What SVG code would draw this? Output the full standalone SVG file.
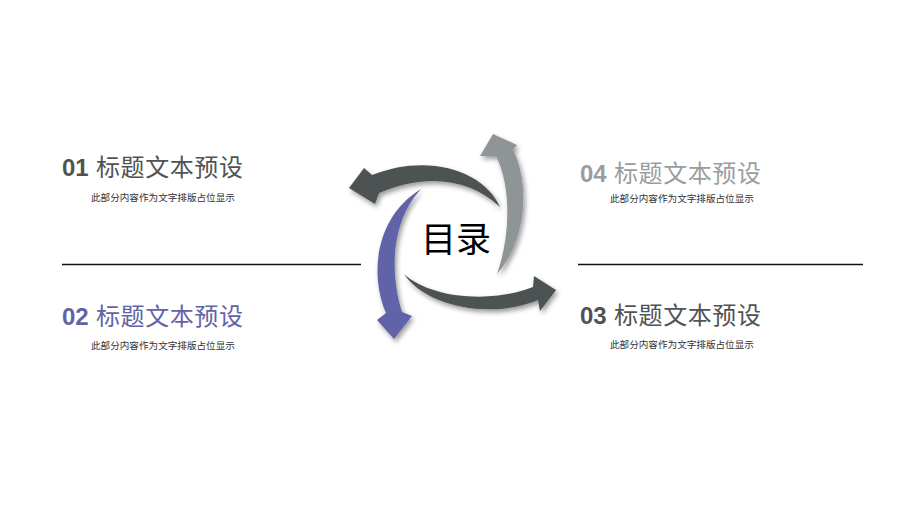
<svg xmlns="http://www.w3.org/2000/svg" width="920" height="517" viewBox="0 0 920 517">
  <style>
    .title { font-family: "Liberation Sans", "Noto Sans CJK SC", sans-serif; font-size: 24px; letter-spacing: 0.6px; }
    .num { font-weight: bold; letter-spacing: 0; }
    .sub { font-family: "Noto Sans CJK SC", sans-serif; font-size: 9.6px; fill: #333333; }
    .dark { fill: #4d5252; }
    .light { fill: #8f9497; }
    .purple { fill: #6163a7; }
    .line { stroke: #111111; stroke-width: 1.3; }
  </style>
  <defs>
    <filter id="sh" x="-30%" y="-30%" width="160%" height="160%">
      <feDropShadow dx="2" dy="3" stdDeviation="2.5" flood-color="#000" flood-opacity="0.4"/>
    </filter>
  </defs>
  <rect width="920" height="517" fill="#ffffff"/>

  <g id="connectors">
    <line class="line" x1="62" y1="264.5" x2="361" y2="264.5"/>
    <line class="line" x1="578" y1="264.5" x2="863" y2="264.5"/>
  </g>

  <g id="cycle" filter="url(#sh)">
    <path id="arrow-top" class="dark" d="M500,207 C485,172 430,152 372,175 L364,168 L349,188 L375,204 L379,193 C425,173 470,178 500,207 Z"/>
    <path id="arrow-right" class="light" d="M497,274 C527,240 530,183 513,150 L517,145 L493,134 L480,156 L496,156 C511,185 511,235 497,274 Z"/>
    <path id="arrow-bottom" class="dark" d="M404,274 C430,298 490,304 533,287 L534,276 L556,290 L540,311 L538,300 C490,320 425,306 404,274 Z"/>
    <path id="arrow-left" class="purple" d="M421,189 C378,215 368,270 386,313 L377,320 L394,339 L412,316 L402,312 C389,270 392,220 421,189 Z"/>
  </g>

  <g id="center">
    <text x="456" y="252" text-anchor="middle" font-family="Noto Sans CJK SC, sans-serif" font-size="35" fill="#000000">目录</text>
  </g>

  <g id="item-01">
    <text class="title" x="62" y="176" fill="#505353"><tspan class="num">01</tspan> 标题文本预设</text>
    <text class="sub" x="91" y="201">此部分内容作为文字排版占位显示</text>
  </g>
  <g id="item-02">
    <text class="title" x="62" y="325" fill="#6163a7"><tspan class="num">02</tspan> 标题文本预设</text>
    <text class="sub" x="91" y="349">此部分内容作为文字排版占位显示</text>
  </g>
  <g id="item-03">
    <text class="title" x="580" y="324" fill="#505353"><tspan class="num">03</tspan> 标题文本预设</text>
    <text class="sub" x="610" y="348">此部分内容作为文字排版占位显示</text>
  </g>
  <g id="item-04">
    <text class="title" x="580" y="182" fill="#9a9d9f"><tspan class="num">04</tspan> 标题文本预设</text>
    <text class="sub" x="610" y="202">此部分内容作为文字排版占位显示</text>
  </g>
</svg>
